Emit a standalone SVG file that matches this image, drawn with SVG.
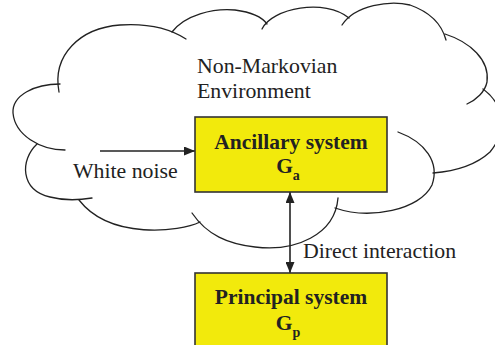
<svg xmlns="http://www.w3.org/2000/svg" width="495" height="345" viewBox="0 0 495 345">
  <defs>
    <style>
      .cloud { fill: none; stroke: #222; stroke-width: 1.3; stroke-linecap: round; }
      .box { fill: #F2EA0C; stroke: #333; stroke-width: 1.6; }
      .lbl { font-family: "Liberation Serif", "Times New Roman", serif; font-size: 21.8px; fill: #222; }
      .bold { font-family: "Liberation Serif", "Times New Roman", serif; font-size: 21.5px; font-weight: bold; fill: #222; }
      .edge { stroke: #222; stroke-width: 1.6; fill: none; }
    </style>
    <marker id="ah" viewBox="0 0 11 9" refX="11" refY="4.5" markerWidth="11" markerHeight="9" markerUnits="userSpaceOnUse" orient="auto-start-reverse">
      <path d="M0,0 L11,4.5 L0,9 Z" fill="#222"/>
    </marker>
  </defs>
  <rect width="495" height="345" fill="#fff"/>

  <g id="environment">
    <path class="cloud" d="M59,92 C52,55 80,28 120,25 C150,23 172,30 186,39"/>
    <path class="cloud" d="M172,32 C185,15 213,8 235,10 C250,12 262,17 267,24"/>
    <path class="cloud" d="M262,29 C272,8 325,-2 349,18"/>
    <path class="cloud" d="M342,25 C355,5 390,0 410,5 C430,12 442,25 446,40"/>
    <path class="cloud" d="M445,34 C470,42 490,60 487,82 C485,92 476,100 467,104"/>
    <path class="cloud" d="M483,89 C505,105 507,132 490,152 C477,164 458,171 433,173"/>
    <path class="cloud" d="M398,132 C425,142 440,162 432,185 C420,210 370,220 335,208"/>
    <path class="cloud" d="M338,198 C335,235 295,252 255,247 C228,244 207,235 192,213"/>
    <path class="cloud" d="M200,222 C180,232 110,240 79,200"/>
    <path class="cloud" d="M37,144 C20,160 20,190 50,197 C65,201 80,200 92,198"/>
    <path class="cloud" d="M65,150 C40,150 15,135 13,113 C12,95 35,84 60,84"/>
    <text class="lbl" x="197" y="73">Non-Markovian</text>
    <text class="lbl" x="197" y="98">Environment</text>
  </g>

  <g id="connectors">
    <line class="edge" x1="100" y1="151" x2="195" y2="151" marker-end="url(#ah)"/>
    <line class="edge" x1="290" y1="192" x2="290" y2="273" marker-start="url(#ah)" marker-end="url(#ah)"/>
    <text class="lbl" x="73" y="178">White noise</text>
    <text class="lbl" x="303" y="258">Direct interaction</text>
  </g>

  <g id="ancillary">
    <rect class="box" x="195" y="117" width="192" height="75"/>
    <text class="bold" x="291" y="149" text-anchor="middle">Ancillary system</text>
    <text class="bold" x="288" y="173" text-anchor="middle">G<tspan font-size="14" dy="7">a</tspan></text>
  </g>

  <g id="principal">
    <rect class="box" x="195" y="273" width="192" height="80"/>
    <text class="bold" x="291" y="304" text-anchor="middle">Principal system</text>
    <text class="bold" x="288" y="330" text-anchor="middle">G<tspan font-size="14" dy="7">p</tspan></text>
  </g>
</svg>
